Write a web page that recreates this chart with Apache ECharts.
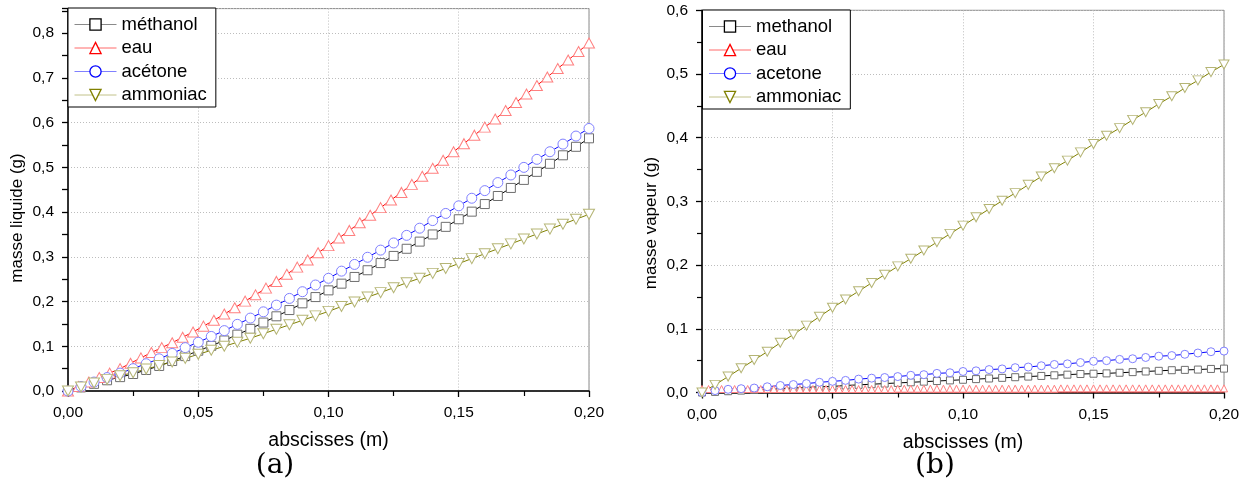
<!DOCTYPE html>
<html><head><meta charset="utf-8">
<script src="https://cdn.jsdelivr.net/npm/echarts@6/dist/echarts.min.js"></script>
<style>html,body{margin:0;padding:0;background:#fff}#c{width:1247px;height:482px}</style>
</head><body><div id="c"></div>
<script>
// ---- abscissae (m) ----
const xStep005 = [0,0.005,0.01,0.015,0.02,0.025,0.03,0.035,0.04,0.045,0.05,0.055,0.06,0.065,0.07,0.075,0.08,0.085,0.09,0.095,0.1,0.105,0.11,0.115,0.12,0.125,0.13,0.135,0.14,0.145,0.15,0.155,0.16,0.165,0.17,0.175,0.18,0.185,0.19,0.195,0.2];
const xStep004 = [0,0.004,0.008,0.012,0.016,0.02,0.024,0.028,0.032,0.036,0.04,0.044,0.048,0.052,0.056,0.06,0.064,0.068,0.072,0.076,0.08,0.084,0.088,0.092,0.096,0.1,0.104,0.108,0.112,0.116,0.12,0.124,0.128,0.132,0.136,0.14,0.144,0.148,0.152,0.156,0.16,0.164,0.168,0.172,0.176,0.18,0.184,0.188,0.192,0.196,0.2];
const xStep0025 = [0,0.0025,0.005,0.0075,0.01,0.0125,0.015,0.0175,0.02,0.0225,0.025,0.0275,0.03,0.0325,0.035,0.0375,0.04,0.0425,0.045,0.0475,0.05,0.0525,0.055,0.0575,0.06,0.0625,0.065,0.0675,0.07,0.0725,0.075,0.0775,0.08,0.0825,0.085,0.0875,0.09,0.0925,0.095,0.0975,0.1,0.1025,0.105,0.1075,0.11,0.1125,0.115,0.1175,0.12,0.1225,0.125,0.1275,0.13,0.1325,0.135,0.1375,0.14,0.1425,0.145,0.1475,0.15,0.1525,0.155,0.1575,0.16,0.1625,0.165,0.1675,0.17,0.1725,0.175,0.1775,0.18,0.1825,0.185,0.1875,0.19,0.1925,0.195,0.1975,0.2];

// ---- (a) masse liquide (g) ----
const liqMethanol = [0,0.008,0.016,0.024,0.031,0.038,0.047,0.056,0.067,0.078,0.09,0.101,0.113,0.126,0.139,0.153,0.167,0.181,0.196,0.21,0.225,0.24,0.255,0.27,0.286,0.302,0.318,0.334,0.35,0.367,0.384,0.401,0.418,0.436,0.454,0.472,0.49,0.508,0.527,0.546,0.565];
const liqEau = [0,0.010,0.020,0.030,0.040,0.050,0.062,0.074,0.086,0.097,0.108,0.120,0.132,0.145,0.158,0.172,0.186,0.201,0.215,0.230,0.245,0.261,0.277,0.293,0.309,0.325,0.342,0.359,0.376,0.393,0.410,0.427,0.444,0.462,0.480,0.498,0.516,0.535,0.553,0.572,0.590,0.608,0.627,0.645,0.664,0.683,0.702,0.721,0.740,0.759,0.778];
const liqAcetone = [0,0.01,0.02,0.03,0.04,0.05,0.061,0.072,0.084,0.097,0.109,0.122,0.135,0.149,0.163,0.177,0.192,0.207,0.222,0.237,0.252,0.268,0.283,0.299,0.315,0.331,0.348,0.364,0.381,0.397,0.414,0.431,0.448,0.466,0.483,0.5,0.518,0.535,0.552,0.57,0.587];
const liqAmmoniac = [0,0.009,0.018,0.026,0.034,0.041,0.049,0.057,0.065,0.073,0.082,0.091,0.1,0.109,0.118,0.128,0.138,0.148,0.158,0.168,0.178,0.189,0.199,0.21,0.22,0.231,0.242,0.252,0.263,0.274,0.285,0.296,0.307,0.318,0.329,0.34,0.351,0.362,0.373,0.384,0.395];

// ---- (b) masse vapeur (g) ----
const vapMethanol = [0,0.001,0.002,0.003,0.004,0.005,0.006,0.007,0.008,0.009,0.0095,0.011,0.012,0.013,0.014,0.015,0.016,0.017,0.018,0.019,0.02,0.021,0.022,0.023,0.024,0.025,0.026,0.027,0.028,0.029,0.0295,0.03,0.031,0.032,0.033,0.034,0.035,0.0355,0.036,0.037,0.0375];
const vapEau = [0,0,0,0,0,0,0,0,0,0,0,0,0,0,0,0,0,0,0,0,0,0,0,0,0,0,0,0,0,0,0.0005,0.0005,0.0005,0.0005,0.0005,0.0005,0.0005,0.0005,0.0005,0.0005,0.0005,0.0005,0.0005,0.0005,0.0005,0.0005,0.0005,0.0005,0.0005,0.0005,0.0005,0.0005,0.0005,0.0005,0.0005,0.001,0.001,0.001,0.001,0.001,0.001,0.001,0.001,0.001,0.001,0.001,0.001,0.001,0.001,0.001,0.001,0.001,0.001,0.001,0.001,0.001,0.001,0.001,0.001,0.001,0.001];
const vapAcetone = [0,0.003,0.005,0.006,0.007,0.009,0.011,0.0125,0.014,0.016,0.0175,0.019,0.021,0.0225,0.0235,0.025,0.027,0.028,0.03,0.031,0.033,0.034,0.036,0.037,0.039,0.04,0.042,0.044,0.045,0.047,0.049,0.05,0.052,0.053,0.055,0.057,0.058,0.06,0.062,0.064,0.065];
const vapAmmoniac = [0,0.012,0.025,0.038,0.051,0.064,0.078,0.091,0.105,0.119,0.133,0.146,0.159,0.172,0.185,0.198,0.21,0.223,0.236,0.249,0.262,0.275,0.288,0.301,0.313,0.326,0.339,0.352,0.364,0.377,0.39,0.403,0.415,0.428,0.44,0.453,0.465,0.478,0.49,0.503,0.515];

const namesA = ['méthanol','eau','acétone','ammoniac'];
const namesB = ['methanol','eau','acetone','ammoniac'];

const zip = (xs, ys) => xs.map((x, i) => [x, ys[i]]);
const FONT = 'Liberation Sans, Arial, sans-serif';
const fmtX = v => v.toFixed(2).replace('.', ',');
const fmtY = v => (Math.abs(v * 10 - Math.round(v * 10)) > 1e-6) ? '' : v.toFixed(1).replace('.', ',');

const ST = {
  methanol: {line: '#000000', mark: '#6e6e6e', legLine: '#8a8a8a', legMark: '#000000', symbol: 'rect', rot: 0},
  eau:      {line: '#ff0000', mark: '#ff8080', legLine: '#ff6a6a', legMark: '#ff0000', symbol: 'triangle', rot: 0},
  acetone:  {line: '#0000ff', mark: '#8080ff', legLine: '#8080ff', legMark: '#0000ff', symbol: 'circle', rot: 0},
  ammoniac: {line: '#808000', mark: '#b5b575', legLine: '#c2c28a', legMark: '#808000', symbol: 'triangle', rot: 180}
};
const keys = ['methanol','eau','acetone','ammoniac'];

function mkSeries(name, key, data, xi, size, extra) {
  const s = ST[key];
  return Object.assign({
    type: 'line', name, xAxisIndex: xi, yAxisIndex: xi === 0 ? 0 : 2,
    data, symbol: s.symbol, symbolSize: size, symbolRotate: s.rot,
    showAllSymbol: true, animation: false, clip: true,
    lineStyle: {color: s.line, width: 1},
    itemStyle: {color: '#ffffff', borderColor: s.mark, borderWidth: 1},
    emphasis: {disabled: true}
  }, extra || {});
}

function mkLegend(names, left, top) {
  return {
    orient: 'vertical', left, top, selectedMode: false,
    itemWidth: 42, itemHeight: 14, itemGap: 3.5,
    padding: [6.5, 9, 2, 6],
    borderColor: '#000', borderWidth: 1, backgroundColor: '#fff',
    textStyle: {fontSize: 18.5, color: '#000', fontFamily: FONT, lineHeight: 20},
    data: names.map((n, i) => {
      const s = ST[keys[i]];
      return {name: n, itemStyle: {color: '#fff', borderColor: s.legMark, borderWidth: 1.3},
              lineStyle: {color: s.legLine, width: 1}};
    })
  };
}

function mkX(gi) {
  return {
    gridIndex: gi, type: 'value', min: 0, max: 0.2, interval: 0.05,
    axisLine: {show: true, onZero: false, lineStyle: {color: '#000', width: 1.5}},
    axisTick: {show: true, inside: false, length: 6, lineStyle: {color: '#000', width: 1.3}},
    minorTick: {show: true, splitNumber: 2, length: 5, lineStyle: {color: '#000', width: 1.2}},
    axisLabel: {formatter: fmtX, fontSize: 15.5, color: '#000', fontFamily: FONT, margin: 14},
    splitLine: {show: true, lineStyle: {color: '#bdbdbd', width: 1, type: [1, 2]}},
    name: 'abscisses (m)', nameLocation: 'middle', nameGap: 40,
    nameTextStyle: {fontSize: 19.5, color: '#000', fontFamily: FONT}
  };
}

const option = {
  backgroundColor: '#fff',
  animation: false,
  grid: [
    {left: 68, top: 8.6, width: 521, height: 382.4, show: true, borderColor: '#8a8a8a', borderWidth: 1, backgroundColor: 'transparent', outerBoundsMode: 'none'},
    {left: 702, top: 10.3, width: 522, height: 382.2, show: true, borderColor: '#8a8a8a', borderWidth: 1, backgroundColor: 'transparent', outerBoundsMode: 'none'}
  ],
  xAxis: [mkX(0), mkX(1)],
  yAxis: [
    {gridIndex: 0, type: 'value', position: 'left', min: 0, max: 0.855, interval: 0.1,
     axisLine: {show: true, onZero: false, lineStyle: {color: '#000', width: 1.5}},
     axisTick: {show: false}, minorTick: {show: false},
     axisLabel: {formatter: fmtY, fontSize: 15.5, color: '#000', fontFamily: FONT, margin: 14, showMaxLabel: false},
     splitLine: {show: true, lineStyle: {color: '#bdbdbd', width: 1, type: [1, 2]}}},
    {gridIndex: 0, type: 'value', position: 'left', min: 0, max: 0.855, interval: 0.05,
     axisLine: {show: false}, axisLabel: {show: false}, splitLine: {show: false},
     axisTick: {show: true, inside: false, length: 6, lineStyle: {color: '#000', width: 1.3}}},
    {gridIndex: 1, type: 'value', position: 'left', min: 0, max: 0.6, interval: 0.1,
     axisLine: {show: true, onZero: false, lineStyle: {color: '#000', width: 1.5}},
     axisTick: {show: true, inside: false, length: 6, lineStyle: {color: '#000', width: 1.3}},
     minorTick: {show: true, splitNumber: 2, length: 5, lineStyle: {color: '#000', width: 1.2}},
     axisLabel: {formatter: fmtY, fontSize: 15.5, color: '#000', fontFamily: FONT, margin: 14},
     splitLine: {show: true, lineStyle: {color: '#bdbdbd', width: 1, type: [1, 2]}}}
  ],
  legend: [mkLegend(namesA, 68, 8), mkLegend(namesB, 702.5, 10)],
  series: [
    mkSeries(namesA[0], 'methanol', zip(xStep005, liqMethanol), 0, 9),
    mkSeries(namesA[1], 'eau', zip(xStep004, liqEau), 0, [11, 10]),
    mkSeries(namesA[2], 'acetone', zip(xStep005, liqAcetone), 0, 10),
    mkSeries(namesA[3], 'ammoniac', zip(xStep005, liqAmmoniac), 0, [11, 10]),
    mkSeries(namesB[0], 'methanol', zip(xStep005, vapMethanol), 1, 7),
    mkSeries(namesB[1], 'eau', zip(xStep0025, vapEau), 1, [7, 7], {symbolOffset: [0, -3.5]}),
    mkSeries(namesB[2], 'acetone', zip(xStep005, vapAcetone), 1, 8),
    mkSeries(namesB[3], 'ammoniac', zip(xStep005, vapAmmoniac), 1, [10, 9])
  ],
  graphic: [
    {type: 'text', x: 17, y: 218, rotation: Math.PI / 2,
     style: {text: 'masse liquide (g)', fontSize: 17, fontFamily: FONT, fill: '#000', align: 'center', verticalAlign: 'middle'}},
    {type: 'text', x: 651, y: 223, rotation: Math.PI / 2,
     style: {text: 'masse vapeur (g)', fontSize: 17, fontFamily: FONT, fill: '#000', align: 'center', verticalAlign: 'middle'}},
    {type: 'text', x: 275, y: 466,
     style: {text: '(a)', fontSize: 28, fontFamily: 'DejaVu Serif, serif', fill: '#000', align: 'center', verticalAlign: 'middle'}},
    {type: 'text', x: 935, y: 466,
     style: {text: '(b)', fontSize: 28, fontFamily: 'DejaVu Serif, serif', fill: '#000', align: 'center', verticalAlign: 'middle'}}
  ]
};

const chart = echarts.init(document.getElementById('c'), null, {renderer: 'canvas'});
chart.setOption(option);
</script>
</body></html>
